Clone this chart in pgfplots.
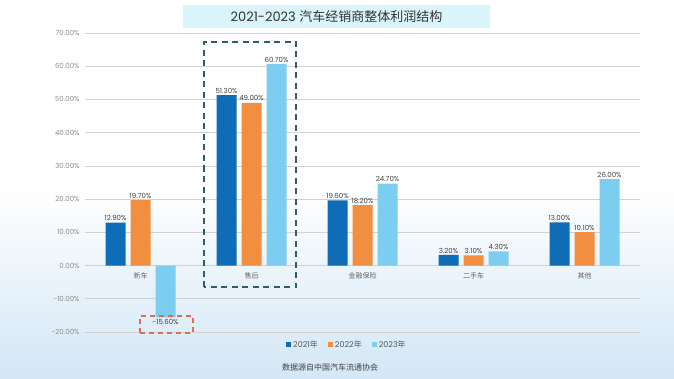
\documentclass[border=0pt]{standalone}
\usepackage{pgfplots}
\pgfplotsset{compat=1.18}
\usepackage{fontspec}
\setmainfont{Poppins}
\newfontfamily\cjk{Noto Sans CJK SC}
\definecolor{c1}{HTML}{0F6DB8}
\definecolor{c2}{HTML}{F28E3F}
\definecolor{c3}{HTML}{7DCDF0}
\definecolor{boxteal}{HTML}{2D5E6B}
\definecolor{boxred}{HTML}{D9714F}
\definecolor{titlebg}{HTML}{D9F4FA}
\definecolor{bgblue}{HTML}{D3E7F6}
\definecolor{ticklab}{HTML}{8C8C8C}
\definecolor{valtxt}{HTML}{404040}
\begin{document}
\begin{tikzpicture}[x=1pt,y=1pt]
\path[use as bounding box] (0,0) rectangle (674,378);
\fill[white] (0,0) rectangle (674,378);
\shade[top color=white, bottom color=bgblue] (0,0) rectangle (674,190);
\fill[titlebg] (183,350) rectangle (490,373);
\node[font=\fontsize{13}{15}\selectfont, text=black!80] at (336.5,361.5) {2021-2023 {\cjk 汽车经销商整体利润结构}};
\begin{axis}[
  at={(85pt,46pt)}, anchor=south west, scale only axis,
  width=555pt, height=299pt,
  ymin=-20, ymax=70, ytick={-20,-10,...,70},
  xmin=-0.5, xmax=4.5, xtick=\empty,
  axis line style={draw=none},
  ymajorgrids, grid style={black!18, line width=0.7pt},
  major tick length=0pt,
  /pgf/number format/assume math mode=true,
  yticklabel={\pgfmathprintnumber[fixed,fixed zerofill,precision=2]{\tick}\%},
  yticklabel style={font=\fontsize{7}{8}\selectfont, text=ticklab, xshift=-2pt},
  ybar=5pt, bar width=20pt,
  nodes near coords={\pgfmathprintnumber[fixed,fixed zerofill,precision=2]{\pgfplotspointmeta}\%},
  every node near coord/.append style={font=\fontsize{7}{8}\selectfont, text=valtxt, inner sep=1.5pt},
  legend image code/.code={\fill[#1, draw=none] (0pt,-2.5pt) rectangle (5pt,2.5pt);},
  legend style={at={(0.472,-0.043)}, anchor=center, draw=none, fill=none,
    legend columns=3, font=\fontsize{8}{9}\selectfont, text=black!65,
    /tikz/every even column/.append style={column sep=8pt}},
  clip=false,
]
\addplot[fill=c1, draw=none] coordinates {(0,12.9) (1,51.3) (2,19.6) (3,3.2) (4,13.0)};
\addlegendentry{2021{\cjk 年}}
\addplot[fill=c2, draw=none] coordinates {(0,19.7) (1,49.0) (2,18.2) (3,3.1) (4,10.1)};
\addlegendentry{2022{\cjk 年}}
\addplot[fill=c3, draw=none] coordinates {(0,-15.6) (1,60.7) (2,24.7) (3,4.3) (4,26.0)};
\addlegendentry{2023{\cjk 年}}
\foreach \i/\name in {0/新车,1/售后,2/金融保险,3/二手车,4/其他}{
  \edef\temp{\noexpand\node[font=\noexpand\cjk\noexpand\fontsize{7}{8}\noexpand\selectfont, text=black!60, anchor=center] at (axis cs:\i,0) [yshift=-10pt] {\name};}
  \temp
}
\end{axis}
\draw[boxteal, line width=1.6pt, dash pattern=on 6pt off 4.5pt] (204,91) rectangle (296,336);
\draw[boxred, line width=1.2pt, dash pattern=on 5pt off 4pt] (140,45) rectangle (193,62);
\node[font=\cjk\fontsize{8}{9}\selectfont, text=black!75] at (330,11) {数据源自中国汽车流通协会};
\end{tikzpicture}
\end{document}
